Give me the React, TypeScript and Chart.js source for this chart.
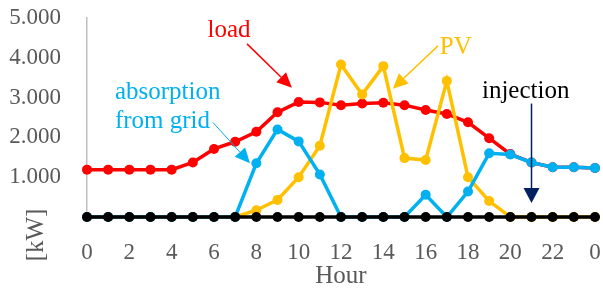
import React, { useEffect, useRef } from 'react';
import { Chart, registerables } from 'chart.js';
Chart.register(...registerables);

const hourLabels = ['0','1','2','3','4','5','6','7','8','9','10','11','12','13','14','15','16','17','18','19','20','21','22','23','0'];
const load = [1190,1190,1190,1190,1190,1370,1710,1890,2140,2630,2890,2880,2810,2850,2870,2810,2690,2590,2380,1980,1580,1370,1250,1250,1230];
const pv = [0,0,0,0,0,0,0,0,170,430,1000,1790,3830,3080,3790,1480,1430,3420,1000,400,0,0,0,0,0];
const absorption = [0,0,0,0,0,0,0,0,1350,2200,1900,1070,0,0,0,0,560,0,640,1600,1570,1370,1250,1250,1230];
const injection = [0,0,0,0,0,0,0,0,0,0,0,0,0,0,0,0,0,0,0,0,0,0,0,0,0];
const yTicks = [0,1000,2000,3000,4000,5000];

const SERIF = '"Liberation Serif", "Times New Roman", serif';
const GRAY = '#595959';

function arrow(ctx: CanvasRenderingContext2D, x1: number, y1: number, x2: number, y2: number, color: string, lw: number, headLen: number, headW: number) {
  const ang = Math.atan2(y2 - y1, x2 - x1);
  const bx = x2 - headLen * Math.cos(ang), by = y2 - headLen * Math.sin(ang);
  ctx.save();
  ctx.strokeStyle = color; ctx.lineWidth = lw;
  ctx.beginPath(); ctx.moveTo(x1, y1); ctx.lineTo(bx, by); ctx.stroke();
  ctx.fillStyle = color; ctx.beginPath(); ctx.moveTo(x2, y2);
  ctx.lineTo(bx + headW * Math.sin(ang), by - headW * Math.cos(ang));
  ctx.lineTo(bx - headW * Math.sin(ang), by + headW * Math.cos(ang));
  ctx.closePath(); ctx.fill();
  ctx.restore();
}

const annotations = {
  id: 'annotations',
  afterDatasetsDraw(chart: any) {
    const ctx: CanvasRenderingContext2D = chart.ctx;
    const xs = chart.scales.x, ys = chart.scales.y;
    const X = (h: number) => xs.getPixelForValue(h);
    const Y = (v: number) => ys.getPixelForValue(v);
    ctx.save();
    ctx.font = `25px ${SERIF}`;
    ctx.textBaseline = 'alphabetic';
    // load
    ctx.fillStyle = '#FF0000'; ctx.textAlign = 'center';
    ctx.fillText('load', X(6.71), Y(4525));
    arrow(ctx, X(7.56), Y(4350), X(9.68), Y(3250), '#FF0000', 1.5, 15, 7);
    // PV
    ctx.fillStyle = '#FFC000'; ctx.textAlign = 'left';
    ctx.fillText('PV', X(16.67), Y(4100));
    arrow(ctx, X(16.58), Y(4300), X(14.45), Y(3225), '#FFC000', 1.5, 15, 7);
    // absorption
    ctx.fillStyle = '#00B0F0'; ctx.textAlign = 'left';
    ctx.fillText('absorption', X(1.32), Y(2975));
    ctx.fillText('from grid', X(1.32), Y(2225));
    arrow(ctx, X(5.95), Y(2375), X(7.7), Y(1350), '#00B0F0', 1, 15, 7);
    // injection
    ctx.fillStyle = '#000000'; ctx.textAlign = 'left';
    ctx.fillText('injection', X(18.66), Y(3000));
    arrow(ctx, X(21), Y(2850), X(21), Y(350), '#002060', 1.5, 15, 8);
    // axis titles
    ctx.fillStyle = GRAY; ctx.textAlign = 'center';
    ctx.font = `25px ${SERIF}`;
    ctx.fillText('Hour', (chart.chartArea.left + chart.chartArea.right) / 2, 283);
    ctx.translate(43, 235);
    ctx.rotate(-Math.PI / 2);
    ctx.fillText('[kW]', 0, 0);
    ctx.restore();
  }
};

export default function App() {
  const ref = useRef<HTMLCanvasElement>(null);
  useEffect(() => {
    const mk = (label: string, data: number[], color: string) => ({
      label, data, borderColor: color, backgroundColor: color,
      borderWidth: 3.5, pointRadius: 5, pointHoverRadius: 5, pointBorderWidth: 0,
      pointBackgroundColor: color, tension: 0, clip: false as any,
    });
    const chart = new Chart(ref.current!, {
      type: 'line',
      data: {
        labels: hourLabels,
        datasets: [
          mk('injection', injection, '#000000'),
          mk('absorption from grid', absorption, '#00B0F0'),
          mk('PV', pv, '#FFC000'),
          mk('load', load, '#FF0000'),
        ],
      },
      options: {
        animation: false,
        responsive: false,
        devicePixelRatio: 1,
        layout: { padding: { top: 18, right: 8, left: 0, bottom: 0 } },
        plugins: { legend: { display: false }, tooltip: { enabled: false } },
        scales: {
          x: {
            offset: false,
            grid: { display: false },
            border: { display: false },
            ticks: {
              autoSkip: false, maxRotation: 0, padding: 14,
              color: GRAY, font: { family: SERIF, size: 23 },
              callback: (_v: any, i: number) => (i % 2 === 0 ? hourLabels[i] : ''),
            },
            afterFit: (s: any) => { s.height = 74; s.paddingLeft = 0; s.paddingRight = 0; },
          },
          y: {
            min: 0, max: 5000,
            afterBuildTicks: (s: any) => { s.ticks = yTicks.map(v => ({ value: v })); },
            grid: { display: true, color: 'rgba(0,0,0,0)', drawTicks: false },
            border: { display: true, color: '#BFBFBF', width: 1.5 },
            ticks: {
              padding: 26, color: GRAY, font: { family: SERIF, size: 23 },
              callback: (v: any) => (v === 0 ? '' : (v / 1000).toFixed(3)),
            },
            afterFit: (s: any) => { s.width = 87; s.paddingTop = 0; s.paddingBottom = 0; },
          },
        },
      },
      plugins: [annotations],
    });
    return () => chart.destroy();
  }, []);
  return (
    <div style={{ position: 'fixed', left: 0, top: 0, width: 603, height: 291, background: '#fff' }}>
      <canvas ref={ref} width={603} height={291} />
    </div>
  );
}
